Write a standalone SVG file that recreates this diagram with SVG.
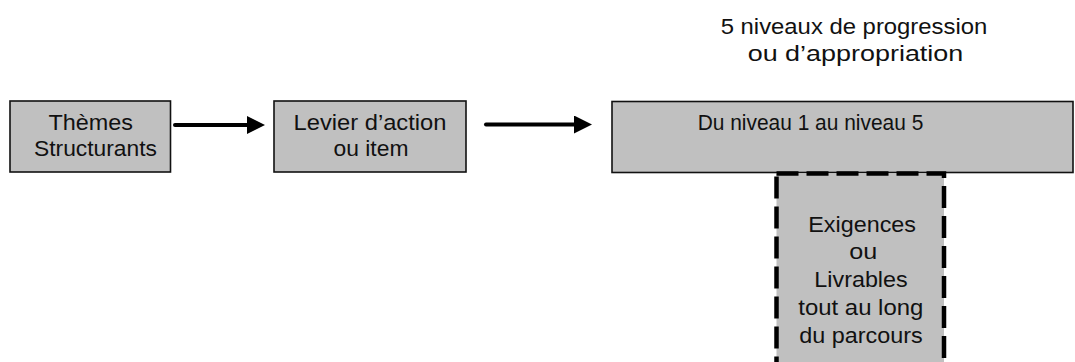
<svg xmlns="http://www.w3.org/2000/svg" width="1075" height="362" viewBox="0 0 1075 362">
<style>
.box{fill:#c0c0c0;stroke:#111;stroke-width:1.6}
.dash{fill:#c0c0c0;stroke:#000;stroke-width:4.5;stroke-dasharray:22 8}
.t{font-family:"Liberation Sans",Arial,sans-serif;font-size:22px;fill:#111}
.c{text-anchor:middle}
.conn{stroke:#000;stroke-width:4;stroke-linecap:round;fill:none}
</style>
<defs>
<marker id="ah" markerUnits="userSpaceOnUse" markerWidth="18" markerHeight="18" refX="3" refY="9" orient="auto">
<path d="M0,0 L18,9 L0,18 z" fill="#000"/>
</marker>
</defs>
<g id="title">
<text class="t" x="720.7" y="34" textLength="266.6" lengthAdjust="spacingAndGlyphs">5 niveaux de progression</text>
<text class="t" x="747.7" y="61" textLength="215.6" lengthAdjust="spacingAndGlyphs">ou d’appropriation</text>
</g>
<g id="themes">
<rect class="box" x="10" y="101" width="160.5" height="71"/>
<text class="t" x="48.5" y="130" textLength="84.5" lengthAdjust="spacingAndGlyphs">Thèmes</text>
<text class="t" x="34" y="156" textLength="123" lengthAdjust="spacingAndGlyphs">Structurants</text>
</g>
<g id="levier">
<rect class="box" x="274" y="101" width="192" height="71"/>
<text class="t" x="293.5" y="129.5" textLength="153" lengthAdjust="spacingAndGlyphs">Levier d’action</text>
<text class="t" x="333.5" y="155.5" textLength="75" lengthAdjust="spacingAndGlyphs">ou item</text>
</g>
<g id="niveaux">
<rect class="box" x="612" y="101.5" width="461" height="71"/>
<text class="t" x="697.7" y="130" textLength="225.6" lengthAdjust="spacingAndGlyphs">Du niveau 1 au niveau 5</text>
</g>
<g id="exigences">
<rect class="dash" x="776.5" y="173.5" width="167.5" height="220"/>
<text class="t" x="808.3" y="231.5" textLength="107.7" lengthAdjust="spacingAndGlyphs">Exigences</text>
<text class="t" x="849.3" y="259.3" textLength="28" lengthAdjust="spacingAndGlyphs">ou</text>
<text class="t" x="814.3" y="287.2" textLength="93.4" lengthAdjust="spacingAndGlyphs">Livrables</text>
<text class="t" x="798.3" y="315" textLength="125" lengthAdjust="spacingAndGlyphs">tout au long</text>
<text class="t" x="799.3" y="342.8" textLength="123.4" lengthAdjust="spacingAndGlyphs">du parcours</text>
</g>
<g id="connectors">
<line class="conn" x1="175" y1="125" x2="250" y2="125" marker-end="url(#ah)"/>
<line class="conn" x1="486" y1="124.5" x2="577" y2="124.5" marker-end="url(#ah)"/>
</g>
</svg>
